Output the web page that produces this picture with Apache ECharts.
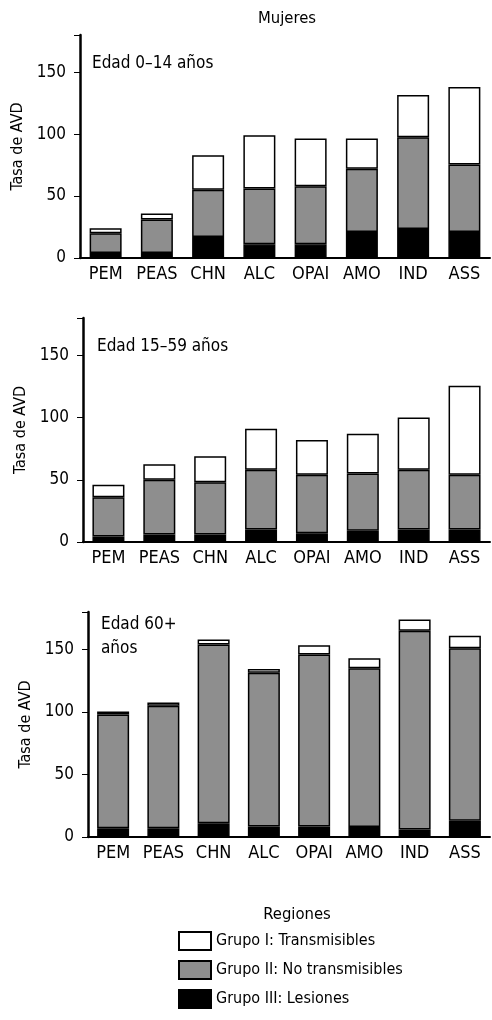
<!DOCTYPE html>
<html>
<head>
<meta charset="utf-8">
<script src="https://cdn.jsdelivr.net/npm/echarts@6/dist/echarts.min.js"></script>
<style>
  html, body { margin: 0; padding: 0; background: #fff; }
  #chart { width: 492px; height: 1020px; }
</style>
</head>
<body>
<div id="chart"></div>
<script>
var regiones = ['PEM', 'PEAS', 'CHN', 'ALC', 'OPAI', 'AMO', 'IND', 'ASS'];
var yTicks = [0, 50, 100, 150];

// Edad 0-14 años
var lesiones014 = [4, 4, 17, 11, 11, 21, 23.5, 21];
var noTrans014 = [16, 27, 38, 45, 47, 51, 74, 54.5];
var trans014 = [4, 5, 28, 43, 38.5, 24.5, 34, 62.5];

// Edad 15-59 años
var lesiones1559 = [4.5, 6, 6, 10, 7, 9, 10, 10];
var noTrans1559 = [31.5, 44, 42, 48, 47, 46, 48, 44];
var trans1559 = [10, 12.5, 21, 33, 28, 32, 42, 71.5];

// Edad 60+ años
var lesiones60 = [7, 7, 11, 8.5, 8.5, 8, 6, 13];
var noTrans60 = [91, 98, 143, 123, 137.5, 127, 159, 138];
var trans60 = [2.5, 2.6, 4, 3, 7.5, 8, 9, 10];

var FONT = '"DejaVu Sans Condensed", "Liberation Sans", sans-serif';
var GRAY = '#8e8e8e';

var panels = [
    {left: 80, top: 35, height: 223, label: 'Edad 0\u201314 años', lx: 92, ly: 52, data: [lesiones014, noTrans014, trans014]},
    {left: 83, top: 318, height: 224, label: 'Edad 15\u201359 años', lx: 97, ly: 335, data: [lesiones1559, noTrans1559, trans1559]},
    {left: 88, top: 612, height: 225, label: 'Edad 60+\naños', lx: 101, ly: 613, data: [lesiones60, noTrans60, trans60]}
];

var grids = [], xAxes = [], yAxes = [], series = [], titles = [];
titles.push({
    text: 'Mujeres', left: 282, top: 5, textAlign: 'center',
    textStyle: {fontFamily: FONT, fontSize: 16.5, fontWeight: 'normal', color: '#000'}
});
titles.push({
    text: 'Regiones', left: 292, top: 901, textAlign: 'center',
    textStyle: {fontFamily: FONT, fontSize: 16.5, fontWeight: 'normal', color: '#000'}
});

var names = ['Grupo III: Lesiones', 'Grupo II: No transmisibles', 'Grupo I: Transmisibles'];
var colors = ['#000', GRAY, '#fff'];

panels.forEach(function (p, i) {
    grids.push({left: p.left, top: p.top, width: 490 - p.left, height: p.height});
    titles.push({
        text: p.label, left: p.lx, top: p.ly, padding: 0,
        textStyle: {fontFamily: FONT, fontSize: 17, fontWeight: 'normal', color: '#000', lineHeight: 24}
    });
    xAxes.push({
        type: 'category', gridIndex: i, data: regiones,
        axisLine: {lineStyle: {color: '#000', width: 2}},
        axisTick: {show: false},
        axisLabel: {color: '#000', fontFamily: FONT, fontSize: 18, margin: 7, interval: 0}
    });
    yAxes.push({
        type: 'value', gridIndex: i, min: 0, max: 180, interval: 50,
        name: 'Tasa de AVD', nameLocation: 'middle', nameGap: 54, nameRotate: 90,
        nameTextStyle: {color: '#000', fontFamily: FONT, fontSize: 16},
        axisLine: {show: true, lineStyle: {color: '#000', width: 2.5}},
        axisTick: {show: true, length: 6, lineStyle: {color: '#000', width: 1}},
        axisLabel: {
            color: '#000', fontFamily: FONT, fontSize: 17, margin: 14,
            formatter: function (v) { return yTicks.indexOf(v) >= 0 ? v : ''; }
        },
        splitLine: {show: false}
    });
    p.data.forEach(function (vals, k) {
        series.push({
            name: names[k], type: 'bar', stack: 'p' + i,
            xAxisIndex: i, yAxisIndex: i, barWidth: 32,
            data: vals,
            itemStyle: {color: colors[k], borderColor: '#000', borderWidth: 1.5},
            emphasis: {disabled: true}
        });
    });
});

var chart = echarts.init(document.getElementById('chart'));
chart.setOption({
    animation: false,
    title: titles,
    grid: grids,
    xAxis: xAxes,
    yAxis: yAxes,
    legend: {
        data: ['Grupo I: Transmisibles', 'Grupo II: No transmisibles', 'Grupo III: Lesiones'],
        orient: 'vertical', left: 178, top: 931, padding: 0,
        icon: 'rect', itemWidth: 32, itemHeight: 18, itemGap: 9,
        textStyle: {fontFamily: FONT, fontSize: 16, color: '#000'},
        selectedMode: false
    },
    series: series
});
</script>
</body>
</html>
